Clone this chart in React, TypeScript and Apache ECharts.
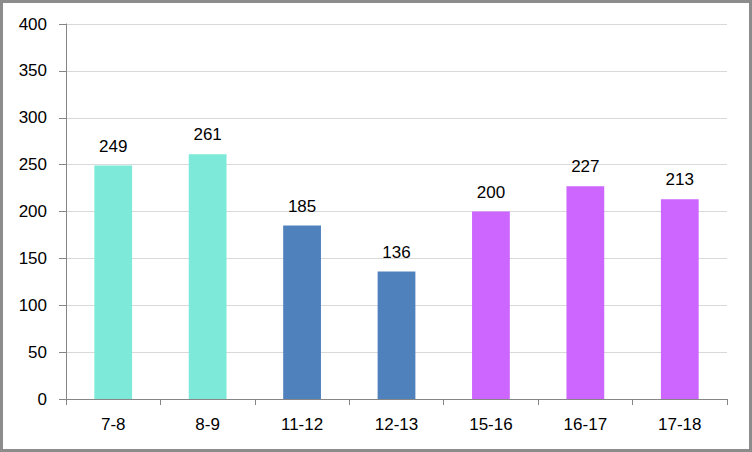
import React, { useEffect, useRef } from "react";
import * as echarts from "echarts";

const categories = ["7-8", "8-9", "11-12", "12-13", "15-16", "16-17", "17-18"];
const values = [249, 261, 185, 136, 200, 227, 213];
const barColors = ["#7DEAD9", "#7DEAD9", "#4F81BD", "#4F81BD", "#CC66FF", "#CC66FF", "#CC66FF"];

export default function App() {
  const ref = useRef<HTMLDivElement>(null);
  useEffect(() => {
    if (!ref.current) return;
    const chart = echarts.init(ref.current, undefined, { renderer: "svg" });
    const font = "Liberation Sans, Arial, sans-serif";
    chart.setOption({
      animation: false,
      backgroundColor: "#ffffff",
      grid: { left: 63, right: 22, top: 21, bottom: 50, containLabel: false },
      xAxis: {
        type: "category",
        data: categories,
        axisLine: { show: true, lineStyle: { color: "#868686", width: 1 } },
        axisTick: { show: true, alignWithLabel: false, length: 6, lineStyle: { color: "#868686" } },
        axisLabel: { color: "#000", fontSize: 17, fontFamily: font, margin: 17 },
        splitLine: { show: false },
      },
      yAxis: {
        type: "value",
        min: 0,
        max: 400,
        interval: 50,
        axisLine: { show: true, lineStyle: { color: "#868686", width: 1 } },
        axisTick: { show: true, inside: false, length: 7, lineStyle: { color: "#868686" } },
        axisLabel: { color: "#000", fontSize: 17, fontFamily: font, margin: 19 },
        splitLine: { show: true, lineStyle: { color: "#D9D9D9", width: 1 } },
      },
      series: [
        {
          type: "bar",
          barWidth: "40%",
          data: values.map((v, i) => ({ value: v, itemStyle: { color: barColors[i] } })),
          label: {
            show: true,
            position: "top",
            distance: 11,
            color: "#000",
            fontSize: 17,
            fontFamily: font,
          },
        },
      ],
    });
    return () => chart.dispose();
  }, []);
  return (
    <div
      style={{
        position: "fixed",
        left: 0,
        top: 0,
        width: 752,
        height: 452,
        boxSizing: "border-box",
        border: "3px solid #8C8C8C",
        background: "#fff",
      }}
    >
      <div ref={ref} style={{ width: 746, height: 446 }} />
    </div>
  );
}
